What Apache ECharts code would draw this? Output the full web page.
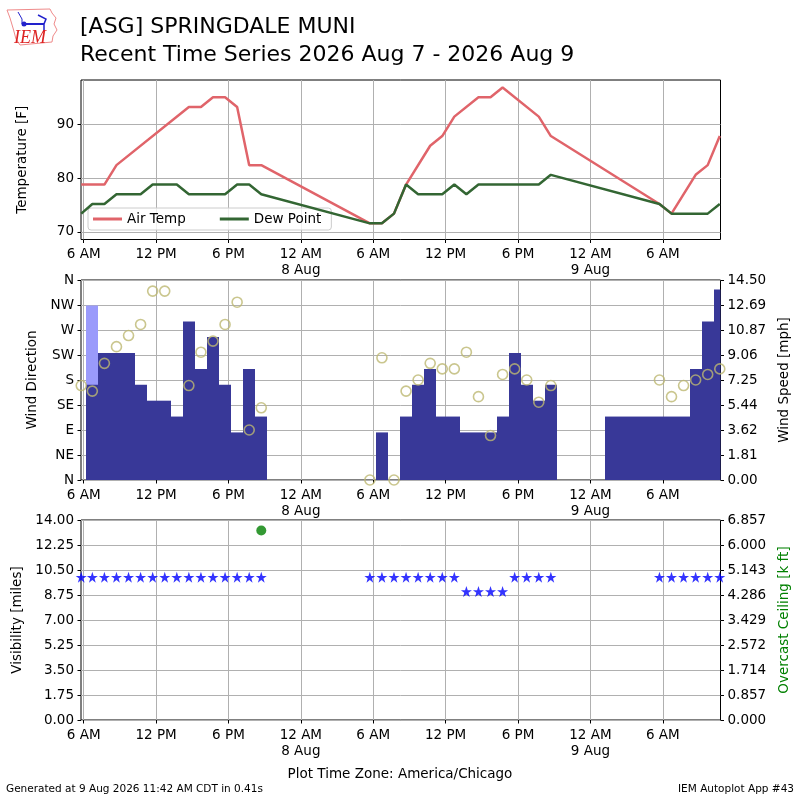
<!DOCTYPE html>
<html>
<head>
<meta charset="utf-8">
<script src="https://cdn.jsdelivr.net/npm/echarts@6/dist/echarts.min.js"></script>
<style>
  html, body { margin: 0; padding: 0; background: #fff; }
  #chart { width: 800px; height: 800px; }
</style>
</head>
<body>
<div id="chart"></div>
<script>
// times are hours since 2026 Aug 7 00:00 CDT
var xMin = 5.78, xMax = 58.78;
var tickHours = [6, 12, 18, 24, 30, 36, 42, 48, 54];
var tickLabels = ['6 AM', '12 PM', '6 PM', '12 AM\n8 Aug', '6 AM', '12 PM', '6 PM', '12 AM\n9 Aug', '6 AM'];

// temperatures [F]
var airTimes = [5.8, 7.72, 8.72, 14.72, 15.72, 16.72, 17.72, 18.72, 19.72, 20.72, 29.72, 30.72, 31.72, 32.72, 34.72, 35.72, 36.72, 38.72, 39.72, 40.72, 43.72, 44.72, 53.72, 54.72, 56.72, 57.72, 58.72];
var airTemp = [78.8, 78.8, 82.4, 93.2, 93.2, 95, 95, 93.2, 82.4, 82.4, 71.6, 71.6, 73.4, 78.8, 86, 87.8, 91.4, 95, 95, 96.8, 91.4, 87.8, 75.2, 73.4, 80.6, 82.4, 87.8];
var dewTimes = [5.8, 6.72, 7.72, 8.72, 10.72, 11.72, 13.72, 14.72, 17.72, 18.72, 19.72, 20.72, 29.72, 30.72, 31.72, 32.72, 33.72, 35.72, 36.72, 37.72, 38.72, 43.72, 44.72, 53.72, 54.72, 57.72, 58.72];
var dewTemp = [73.4, 75.2, 75.2, 77, 77, 78.8, 78.8, 77, 77, 78.8, 78.8, 77, 71.6, 71.6, 73.4, 78.8, 77, 77, 78.8, 77, 78.8, 78.8, 80.6, 75.2, 73.4, 73.4, 75.2];

// wind
var windTimes = [5.8, 6.72, 7.72, 8.72, 9.72, 10.72, 11.72, 12.72, 13.72, 14.72, 15.72, 16.72, 17.72, 18.72, 19.72, 20.72,
  29.72, 30.72, 31.72, 32.72, 33.72, 34.72, 35.72, 36.72, 37.72, 38.72, 39.72, 40.72, 41.72, 42.72, 43.72, 44.72,
  49.72, 50.72, 51.72, 52.72, 53.72, 54.72, 55.72, 56.72, 57.72, 58.72];
var windDir = [170, 160, 210, 240, 260, 280, 340, 340, null, 170, 230, 250, 280, 320, 90, 130,
  0, 220, 0, 160, 180, 210, 200, 200, 230, 150, 80, 190, 200, 180, 140, 170,
  null, null, null, null, 180, 150, 170, 180, 190, 200];
var windSpeed = [null, 6.9, 9.2, 9.2, 9.2, 6.9, 5.75, 5.75, 4.6, 11.5, 8.05, 10.36, 6.9, 3.45, 8.05, 4.6,
  0, 3.45, 0, 4.6, 6.9, 8.05, 4.6, 4.6, 3.45, 3.45, 3.45, 4.6, 9.2, 6.9, 5.75, 6.9,
  4.6, 4.6, 4.6, 4.6, 4.6, 4.6, 4.6, 8.05, 11.5, 13.81];
var gustTimes = [6.72];
var gustSpeed = [12.66];
var dirLabels = ['N', 'NE', 'E', 'SE', 'S', 'SW', 'W', 'NW', 'N'];
var speedLabels = ['0.00', '1.81', '3.62', '5.44', '7.25', '9.06', '10.87', '12.69', '14.50'];

// visibility / ceiling
var visTimes = [5.8, 6.72, 7.72, 8.72, 9.72, 10.72, 11.72, 12.72, 13.72, 14.72, 15.72, 16.72, 17.72, 18.72, 19.72, 20.72,
  29.72, 30.72, 31.72, 32.72, 33.72, 34.72, 35.72, 36.72, 37.72, 38.72, 39.72, 40.72, 41.72, 42.72, 43.72, 44.72,
  53.72, 54.72, 55.72, 56.72, 57.72, 58.72];
var visMiles = [10, 10, 10, 10, 10, 10, 10, 10, 10, 10, 10, 10, 10, 10, 10, 10,
  10, 10, 10, 10, 10, 10, 10, 10, 9, 9, 9, 9, 10, 10, 10, 10,
  10, 10, 10, 10, 10, 10];
var ceilTimes = [20.72];
var ceilKft = [6.5];
var visLabels = ['0.00', '1.75', '3.50', '5.25', '7.00', '8.75', '10.50', '12.25', '14.00'];
var ceilLabels = ['0.000', '0.857', '1.714', '2.572', '3.429', '4.286', '5.143', '6.000', '6.857'];

function pairs(xs, ys) {
  var out = [];
  for (var i = 0; i < xs.length; i++) {
    if (ys[i] != null) out.push([xs[i], ys[i]]);
  }
  return out;
}

var FONT = 'DejaVu Sans';
var GRID_COLOR = '#b0b0b0';
var STAR = 'path://M50,0 L61.8,35.1 L98.1,35.1 L68.8,56.7 L79.4,90.9 L50,70 L20.6,90.9 L31.2,56.7 L1.9,35.1 L38.2,35.1 Z';

function xAxisFor(gi) {
  return {
    type: 'value', gridIndex: gi, min: xMin, max: xMax,
    axisLine: { show: false },
    axisTick: { show: true, length: 3.5, lineStyle: { color: '#000' }, customValues: tickHours },
    axisLabel: {
      customValues: tickHours, margin: 7, color: '#000', fontFamily: FONT, fontSize: 13.5, lineHeight: 16,
      formatter: function (v) { var i = tickHours.indexOf(v); return i >= 0 ? tickLabels[i] : ''; }
    },
    splitLine: { show: true, lineStyle: { color: GRID_COLOR, width: 1 } }
  };
}

function yAxisFor(gi, opt) {
  var base = {
    type: 'value', gridIndex: gi,
    nameLocation: 'middle',
    nameTextStyle: { fontFamily: FONT, fontSize: 13.5, color: '#000' },
    axisLine: { show: false },
    axisTick: { show: true, length: 3.5, lineStyle: { color: '#000' } },
    axisLabel: { margin: 7, color: '#000', fontFamily: FONT, fontSize: 13.5 },
    splitLine: { show: true, lineStyle: { color: GRID_COLOR, width: 1 } }
  };
  for (var k in opt) {
    if (typeof opt[k] === 'object' && base[k] && !Array.isArray(opt[k])) {
      base[k] = Object.assign({}, base[k], opt[k]);
    } else {
      base[k] = opt[k];
    }
  }
  return base;
}

function labelFrom(list, step) {
  return function (v) { return list[Math.round(v / step)]; };
}

// one-hour-wide bar centred on the obs time, snapped to whole pixels so neighbours don't show seams
function barItem(params, api) {
  var t = api.value(0), v = api.value(1);
  var p0 = api.coord([t - 0.5, v]);
  var p1 = api.coord([t + 0.5, 0]);
  var x0 = Math.round(p0[0]), x1 = Math.round(p1[0]);
  var cs = params.coordSys;
  var rect = echarts.graphic.clipRectByRect(
    { x: x0, y: p0[1], width: x1 - x0, height: p1[1] - p0[1] },
    { x: cs.x, y: cs.y, width: cs.width, height: cs.height }
  );
  return rect && {
    type: 'rect', shape: rect,
    style: { fill: api.visual('color') }
  };
}

var chart = echarts.init(document.getElementById('chart'), null, { renderer: 'canvas' });

var option = {
  animation: false,
  backgroundColor: '#fff',
  textStyle: { fontFamily: FONT },
  grid: [
    { left: 81, width: 639.5, top: 80, height: 159.5, show: true, borderColor: '#000', borderWidth: 1, backgroundColor: 'transparent' },
    { left: 81, width: 639.5, top: 280, height: 200, show: true, borderColor: '#000', borderWidth: 1, backgroundColor: 'transparent' },
    { left: 81, width: 639.5, top: 520, height: 200, show: true, borderColor: '#000', borderWidth: 1, backgroundColor: 'transparent' }
  ],
  xAxis: [xAxisFor(0), xAxisFor(1), xAxisFor(2)],
  yAxis: [
    yAxisFor(0, {
      min: 68.6, max: 98.2, name: 'Temperature [F]', nameGap: 52,
      axisTick: { customValues: [70, 80, 90] },
      axisLabel: { customValues: [70, 80, 90] }
    }),
    yAxisFor(1, {
      min: 0, max: 360, interval: 45, name: 'Wind Direction', nameGap: 41,
      axisLabel: { formatter: labelFrom(dirLabels, 45) }
    }),
    yAxisFor(1, {
      min: 0, max: 14.5, interval: 14.5 / 8, position: 'right', name: 'Wind Speed [mph]', nameGap: 55,
      splitLine: { show: false },
      axisLabel: { formatter: labelFrom(speedLabels, 14.5 / 8) }
    }),
    yAxisFor(2, {
      min: 0, max: 14, interval: 1.75, name: 'Visibility [miles]', nameGap: 56,
      axisLabel: { formatter: labelFrom(visLabels, 1.75) }
    }),
    yAxisFor(2, {
      min: 0, max: 6.857, interval: 6.857 / 8, position: 'right', name: 'Overcast Ceiling [k ft]', nameGap: 55,
      nameTextStyle: { color: '#008000' },
      splitLine: { show: false },
      axisLabel: { formatter: labelFrom(ceilLabels, 6.857 / 8) }
    })
  ],
  legend: {
    left: 88, top: 208,
    orient: 'horizontal',
    icon: 'rect', itemWidth: 29, itemHeight: 3, itemGap: 34,
    padding: [4, 10, 4, 5],
    borderColor: '#cccccc', borderWidth: 1, borderRadius: 3,
    backgroundColor: 'rgba(255,255,255,0.8)',
    textStyle: { fontFamily: FONT, fontSize: 13.5, color: '#000' },
    data: ['Air Temp', 'Dew Point']
  },
  series: [
    {
      name: 'Air Temp', type: 'line', xAxisIndex: 0, yAxisIndex: 0,
      data: pairs(airTimes, airTemp), symbol: 'none', color: '#e0646a',
      lineStyle: { width: 2.5, color: '#e0646a' }, z: 3
    },
    {
      name: 'Dew Point', type: 'line', xAxisIndex: 0, yAxisIndex: 0,
      data: pairs(dewTimes, dewTemp), symbol: 'none', color: '#336633',
      lineStyle: { width: 2.5, color: '#336633' }, z: 4
    },
    {
      name: 'Gust', type: 'custom', xAxisIndex: 1, yAxisIndex: 2,
      data: pairs(gustTimes, gustSpeed), renderItem: barItem, color: '#9a9afb', z: 2
    },
    {
      name: 'Speed', type: 'custom', xAxisIndex: 1, yAxisIndex: 2,
      data: pairs(windTimes, windSpeed).filter(function (d) { return d[1] > 0; }),
      renderItem: barItem, color: '#383898', z: 3
    },
    {
      name: 'Direction', type: 'scatter', xAxisIndex: 1, yAxisIndex: 1,
      data: pairs(windTimes, windDir), symbol: 'circle', symbolSize: 10,
      itemStyle: { color: 'rgba(0,0,0,0)', borderColor: '#bdb872', borderWidth: 1.6 }, z: 5
    },
    {
      name: 'Visibility', type: 'scatter', xAxisIndex: 2, yAxisIndex: 3,
      data: pairs(visTimes, visMiles), symbol: STAR, symbolSize: 11,
      itemStyle: { color: '#0000ff' }, z: 5
    },
    {
      name: 'Ceiling', type: 'scatter', xAxisIndex: 2, yAxisIndex: 4,
      data: pairs(ceilTimes, ceilKft), symbol: 'circle', symbolSize: 10,
      itemStyle: { color: '#008000' }, z: 5
    }
  ],
  graphic: [
    // IEM logo (rough)
    { type: 'polyline', shape: { points: [[7, 10], [50, 9], [52, 13], [56, 18], [54, 24], [57, 30], [53, 36], [52, 42], [20, 45], [16, 39], [13, 28], [10, 18], [7, 10]] },
      style: { stroke: '#ef8a8a', fill: 'none', lineWidth: 1 } },
    { type: 'polyline', shape: { points: [[22, 24], [44, 24]] }, style: { stroke: '#2222cc', lineWidth: 2 } },
    { type: 'polyline', shape: { points: [[18, 12], [22, 19], [22, 24]] }, style: { stroke: '#2222cc', lineWidth: 1 } },
    { type: 'polyline', shape: { points: [[38, 15], [46, 19], [44, 24], [44, 32]] }, style: { stroke: '#2222cc', lineWidth: 1.5 } },
    { type: 'circle', shape: { cx: 24, cy: 24, r: 2.5 }, style: { fill: '#2222cc' } },
    { type: 'text', left: 14, top: 29, style: { text: 'IEM', font: 'italic 18px "Liberation Serif"', fill: '#dd2222' } },
    // titles
    { type: 'text', left: 80, top: 16, style: { text: '[ASG] SPRINGDALE MUNI', font: '22px "DejaVu Sans"', fill: '#000' } },
    { type: 'text', left: 80, top: 44, style: { text: 'Recent Time Series 2026 Aug 7 - 2026 Aug 9', font: '22px "DejaVu Sans"', fill: '#000' } },
    // footers
    { type: 'text', left: 'center', top: 767, style: { text: 'Plot Time Zone: America/Chicago', font: '13.5px "DejaVu Sans"', fill: '#000' } },
    { type: 'text', left: 6, top: 784, style: { text: 'Generated at 9 Aug 2026 11:42 AM CDT in 0.41s', font: '10.5px "DejaVu Sans"', fill: '#000' } },
    { type: 'text', right: 6, top: 784, style: { text: 'IEM Autoplot App #43', font: '10.5px "DejaVu Sans"', fill: '#000' } }
  ]
};

chart.setOption(option);
</script>
</body>
</html>
